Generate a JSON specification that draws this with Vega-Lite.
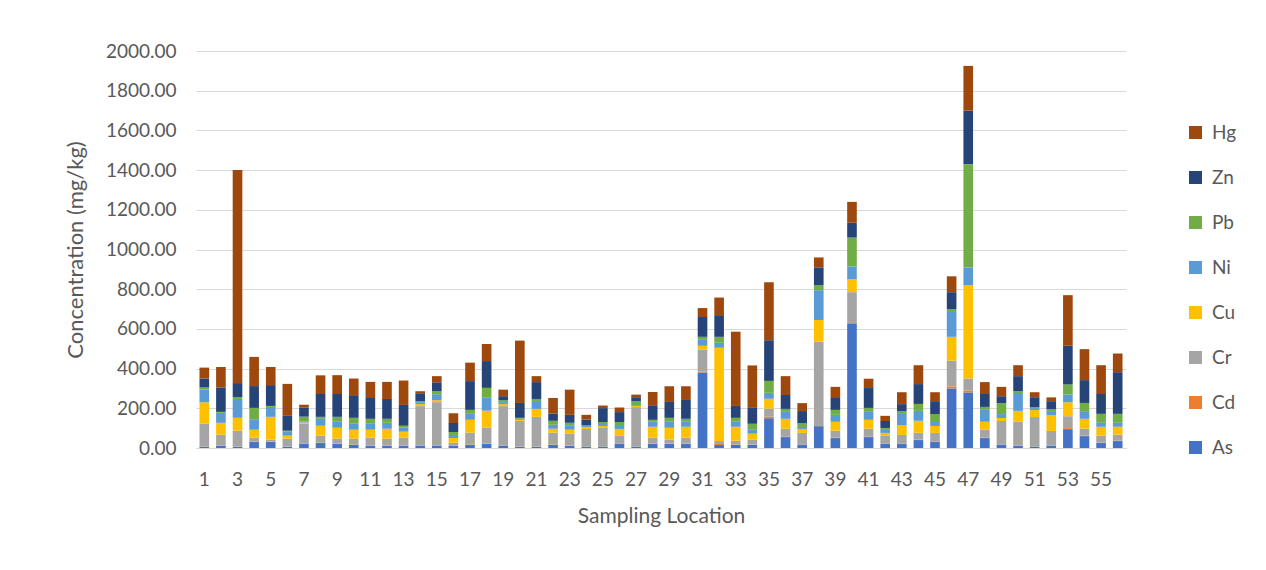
{
  "$schema": "https://vega.github.io/schema/vega-lite/v6.json",
  "width": 930,
  "height": 397,
  "autosize": {"type": "none"},
  "padding": {"left": 196, "top": 51, "right": 140, "bottom": 122},
  "background": "white",
  "config": {"font": "Lato", "view": {"stroke": null}},
  "data": {"values": [
    {"loc": 1, "As": 5, "Cd": 2, "Cr": 115, "Cu": 108, "Ni": 65, "Pb": 10, "Zn": 45, "Hg": 55},
    {"loc": 2, "As": 10, "Cd": 2, "Cr": 55, "Cu": 60, "Ni": 50, "Pb": 5, "Zn": 123, "Hg": 103},
    {"loc": 3, "As": 5, "Cd": 2, "Cr": 80, "Cu": 65, "Ni": 95, "Pb": 10, "Zn": 70, "Hg": 1073},
    {"loc": 4, "As": 30, "Cd": 2, "Cr": 20, "Cu": 40, "Ni": 50, "Pb": 60, "Zn": 110, "Hg": 147},
    {"loc": 5, "As": 30, "Cd": 2, "Cr": 10, "Cu": 115, "Ni": 50, "Pb": 5, "Zn": 105, "Hg": 91},
    {"loc": 6, "As": 5, "Cd": 2, "Cr": 40, "Cu": 15, "Ni": 20, "Pb": 5, "Zn": 75, "Hg": 161},
    {"loc": 7, "As": 20, "Cd": 1, "Cr": 102, "Cu": 5, "Ni": 5, "Pb": 25, "Zn": 45, "Hg": 15},
    {"loc": 8, "As": 25, "Cd": 2, "Cr": 35, "Cu": 50, "Ni": 35, "Pb": 10, "Zn": 115, "Hg": 94},
    {"loc": 9, "As": 20, "Cd": 2, "Cr": 25, "Cu": 55, "Ni": 30, "Pb": 25, "Zn": 115, "Hg": 95},
    {"loc": 10, "As": 15, "Cd": 2, "Cr": 30, "Cu": 45, "Ni": 30, "Pb": 30, "Zn": 110, "Hg": 88},
    {"loc": 11, "As": 10, "Cd": 2, "Cr": 40, "Cu": 40, "Ni": 30, "Pb": 25, "Zn": 105, "Hg": 81},
    {"loc": 12, "As": 10, "Cd": 2, "Cr": 35, "Cu": 50, "Ni": 30, "Pb": 20, "Zn": 100, "Hg": 86},
    {"loc": 13, "As": 10, "Cd": 2, "Cr": 40, "Cu": 30, "Ni": 20, "Pb": 10, "Zn": 105, "Hg": 123},
    {"loc": 14, "As": 10, "Cd": 1, "Cr": 200, "Cu": 10, "Ni": 10, "Pb": 5, "Zn": 40, "Hg": 10},
    {"loc": 15, "As": 10, "Cd": 1, "Cr": 220, "Cu": 10, "Ni": 30, "Pb": 15, "Zn": 45, "Hg": 31},
    {"loc": 16, "As": 10, "Cd": 1, "Cr": 15, "Cu": 25, "Ni": 10, "Pb": 20, "Zn": 45, "Hg": 49},
    {"loc": 17, "As": 15, "Cd": 2, "Cr": 60, "Cu": 65, "Ni": 30, "Pb": 20, "Zn": 145, "Hg": 93},
    {"loc": 18, "As": 20, "Cd": 3, "Cr": 80, "Cu": 85, "Ni": 65, "Pb": 50, "Zn": 135, "Hg": 86},
    {"loc": 19, "As": 10, "Cd": 1, "Cr": 200, "Cu": 10, "Ni": 10, "Pb": 10, "Zn": 20, "Hg": 33},
    {"loc": 20, "As": 5, "Cd": 2, "Cr": 130, "Cu": 5, "Ni": 5, "Pb": 5, "Zn": 75, "Hg": 314},
    {"loc": 21, "As": 5, "Cd": 2, "Cr": 150, "Cu": 40, "Ni": 40, "Pb": 10, "Zn": 85, "Hg": 30},
    {"loc": 22, "As": 15, "Cd": 2, "Cr": 60, "Cu": 20, "Ni": 20, "Pb": 20, "Zn": 37, "Hg": 78},
    {"loc": 23, "As": 10, "Cd": 2, "Cr": 60, "Cu": 20, "Ni": 20, "Pb": 15, "Zn": 40, "Hg": 127},
    {"loc": 24, "As": 5, "Cd": 1, "Cr": 90, "Cu": 10, "Ni": 10, "Pb": 0, "Zn": 27, "Hg": 24},
    {"loc": 25, "As": 5, "Cd": 1, "Cr": 95, "Cu": 10, "Ni": 15, "Pb": 5, "Zn": 70, "Hg": 13},
    {"loc": 26, "As": 20, "Cd": 1, "Cr": 40, "Cu": 35, "Ni": 15, "Pb": 20, "Zn": 50, "Hg": 23},
    {"loc": 27, "As": 5, "Cd": 1, "Cr": 200, "Cu": 5, "Ni": 5, "Pb": 20, "Zn": 20, "Hg": 13},
    {"loc": 28, "As": 20, "Cd": 2, "Cr": 30, "Cu": 55, "Ni": 25, "Pb": 10, "Zn": 70, "Hg": 70},
    {"loc": 29, "As": 20, "Cd": 2, "Cr": 20, "Cu": 60, "Ni": 30, "Pb": 20, "Zn": 80, "Hg": 79},
    {"loc": 30, "As": 20, "Cd": 2, "Cr": 30, "Cu": 55, "Ni": 25, "Pb": 15, "Zn": 95, "Hg": 69},
    {"loc": 31, "As": 380, "Cd": 5, "Cr": 110, "Cu": 20, "Ni": 30, "Pb": 15, "Zn": 100, "Hg": 45},
    {"loc": 32, "As": 15, "Cd": 5, "Cr": 15, "Cu": 470, "Ni": 25, "Pb": 30, "Zn": 105, "Hg": 93},
    {"loc": 33, "As": 15, "Cd": 2, "Cr": 20, "Cu": 70, "Ni": 25, "Pb": 20, "Zn": 60, "Hg": 374},
    {"loc": 34, "As": 15, "Cd": 2, "Cr": 25, "Cu": 30, "Ni": 20, "Pb": 30, "Zn": 80, "Hg": 214},
    {"loc": 35, "As": 150, "Cd": 8, "Cr": 40, "Cu": 50, "Ni": 30, "Pb": 60, "Zn": 205, "Hg": 292},
    {"loc": 36, "As": 55, "Cd": 2, "Cr": 40, "Cu": 50, "Ni": 35, "Pb": 15, "Zn": 70, "Hg": 95},
    {"loc": 37, "As": 15, "Cd": 1, "Cr": 60, "Cu": 20, "Ni": 10, "Pb": 20, "Zn": 60, "Hg": 40},
    {"loc": 38, "As": 110, "Cd": 5, "Cr": 420, "Cu": 110, "Ni": 150, "Pb": 25, "Zn": 90, "Hg": 50},
    {"loc": 39, "As": 50, "Cd": 2, "Cr": 35, "Cu": 45, "Ni": 35, "Pb": 25, "Zn": 60, "Hg": 56},
    {"loc": 40, "As": 625, "Cd": 5, "Cr": 155, "Cu": 65, "Ni": 65, "Pb": 145, "Zn": 75, "Hg": 105},
    {"loc": 41, "As": 55, "Cd": 2, "Cr": 40, "Cu": 45, "Ni": 40, "Pb": 20, "Zn": 100, "Hg": 47},
    {"loc": 42, "As": 20, "Cd": 1, "Cr": 40, "Cu": 15, "Ni": 15, "Pb": 10, "Zn": 35, "Hg": 26},
    {"loc": 43, "As": 20, "Cd": 1, "Cr": 45, "Cu": 50, "Ni": 60, "Pb": 10, "Zn": 35, "Hg": 60},
    {"loc": 44, "As": 40, "Cd": 2, "Cr": 35, "Cu": 60, "Ni": 50, "Pb": 35, "Zn": 100, "Hg": 95},
    {"loc": 45, "As": 30, "Cd": 1, "Cr": 45, "Cu": 35, "Ni": 25, "Pb": 35, "Zn": 65, "Hg": 45},
    {"loc": 46, "As": 300, "Cd": 10, "Cr": 130, "Cu": 120, "Ni": 130, "Pb": 10, "Zn": 85, "Hg": 80},
    {"loc": 47, "As": 280, "Cd": 10, "Cr": 60, "Cu": 470, "Ni": 90, "Pb": 520, "Zn": 270, "Hg": 225},
    {"loc": 48, "As": 50, "Cd": 2, "Cr": 40, "Cu": 40, "Ni": 60, "Pb": 15, "Zn": 65, "Hg": 60},
    {"loc": 49, "As": 15, "Cd": 1, "Cr": 120, "Cu": 15, "Ni": 20, "Pb": 55, "Zn": 35, "Hg": 47},
    {"loc": 50, "As": 10, "Cd": 2, "Cr": 120, "Cu": 55, "Ni": 90, "Pb": 10, "Zn": 75, "Hg": 55},
    {"loc": 51, "As": 5, "Cd": 1, "Cr": 150, "Cu": 35, "Ni": 10, "Pb": 5, "Zn": 50, "Hg": 25},
    {"loc": 52, "As": 10, "Cd": 1, "Cr": 75, "Cu": 80, "Ni": 20, "Pb": 10, "Zn": 40, "Hg": 19},
    {"loc": 53, "As": 95, "Cd": 5, "Cr": 60, "Cu": 70, "Ni": 40, "Pb": 50, "Zn": 195, "Hg": 255},
    {"loc": 54, "As": 60, "Cd": 2, "Cr": 35, "Cu": 50, "Ni": 35, "Pb": 45, "Zn": 115, "Hg": 156},
    {"loc": 55, "As": 25, "Cd": 2, "Cr": 35, "Cu": 45, "Ni": 20, "Pb": 45, "Zn": 100, "Hg": 145},
    {"loc": 56, "As": 35, "Cd": 2, "Cr": 30, "Cu": 40, "Ni": 20, "Pb": 45, "Zn": 210, "Hg": 94}
  ]},
  "transform": [
    {"fold": ["As", "Cd", "Cr", "Cu", "Ni", "Pb", "Zn", "Hg"], "as": ["metal", "value"]},
    {"calculate": "indexof(['As','Cd','Cr','Cu','Ni','Pb','Zn','Hg'], datum.metal)", "as": "stackOrder"}
  ],
  "mark": {"type": "bar"},
  "encoding": {
    "x": {
      "field": "loc", "type": "ordinal",
      "scale": {"paddingInner": 0.42, "paddingOuter": 0.21},
      "axis": {
        "labelAngle": 0,
        "labelExpr": "datum.value % 2 == 1 ? datum.label : ''",
        "ticks": false, "domain": true, "domainColor": "#D9D9D9",
        "labelFontSize": 19, "labelColor": "#595959", "labelPadding": 22,
        "title": "Sampling Location", "titleFontSize": 21, "titleFontWeight": "normal",
        "titleColor": "#595959", "titlePadding": 16
      }
    },
    "y": {
      "field": "value", "type": "quantitative", "stack": "zero",
      "scale": {"domain": [0, 2000]},
      "axis": {
        "values": [0, 200, 400, 600, 800, 1000, 1200, 1400, 1600, 1800, 2000],
        "format": ".2f", "grid": true, "gridColor": "#D9D9D9", "domain": false, "ticks": false,
        "labelFontSize": 19, "labelColor": "#595959", "labelPadding": 20,
        "title": "Concentration (mg/kg)", "titleFontSize": 22, "titleFontWeight": "normal",
        "titleColor": "#595959", "titlePadding": 18
      }
    },
    "color": {
      "field": "metal", "type": "nominal",
      "scale": {
        "domain": ["Hg", "Zn", "Pb", "Ni", "Cu", "Cr", "Cd", "As"],
        "range": ["#9E480E", "#264478", "#70AD47", "#5B9BD5", "#FFC000", "#A5A5A5", "#ED7D31", "#4472C4"]
      },
      "legend": {
        "orient": "none", "legendX": 990, "legendY": 72, "title": null,
        "symbolType": "square", "symbolSize": 169, "symbolStrokeWidth": 0,
        "labelFontSize": 19, "labelColor": "#595959", "rowPadding": 25, "labelOffset": 7
      }
    },
    "order": {"field": "stackOrder", "type": "quantitative"}
  }
}
